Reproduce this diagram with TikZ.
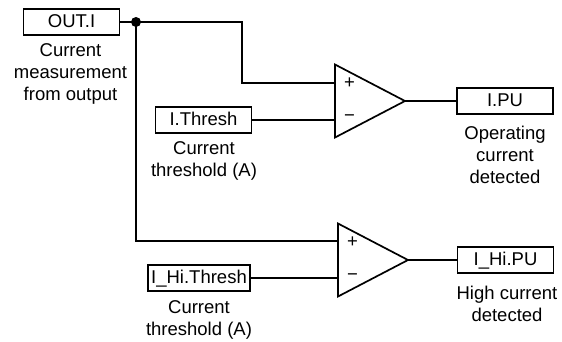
\documentclass[tikz,border=0pt]{standalone}
\usepackage{fontspec}
\setmainfont{Liberation Sans}
\tikzset{
  x=1pt,y=-1pt,
  wire/.style={line width=1.7pt,black},
  sig/.style={draw=black,line width=1.7pt,fill=white,minimum height=26.5pt,inner sep=0pt,text height=14pt,text depth=3pt,font=\fontsize{18.5}{22}\selectfont,anchor=center},
  lab/.style={align=center,inner sep=0pt,font=\fontsize{18.5}{22}\selectfont,anchor=center},
  sign/.style={inner sep=0pt,font=\fontsize{18.5}{18.5}\selectfont,anchor=center},
  amp/.style={line width=1.7pt,draw=black,line join=miter}
}
\begin{document}
\begin{tikzpicture}
\useasboundingbox (0,0) rectangle (562,341);
% signal boxes
\node[sig,minimum width=96pt] (outi) at (71.5,22) {OUT.I};
\node[sig,minimum width=96pt] (ith) at (203.5,120) {I.Thresh};
\node[sig,minimum width=96pt] (ipu) at (505,101) {I.PU};
\node[sig,minimum width=102pt] (hith) at (199,278) {I\_Hi.Thresh};
\node[sig,minimum width=96pt] (hipu) at (505.5,260) {I\_Hi.PU};
% labels
\node[lab] (l1) at (70.5,74) {Current\\measurement\\from output};
\node[lab] (l2) at (204,160.5) {Current\\threshold (A)};
\node[lab] (l3) at (505,154.5) {Operating\\current\\detected};
\node[lab] (l4) at (199,320) {Current\\threshold (A)};
\node[lab] (l5) at (507,303.5) {High current\\detected};
% comparators
\coordinate (a1t) at (335,64.5);
\coordinate (a1b) at (335,137.5);
\coordinate (a1o) at (405,101);
\coordinate (a1p) at (335,83);
\coordinate (a1m) at (335,120);
\coordinate (a2t) at (338,223.5);
\coordinate (a2b) at (338,296.5);
\coordinate (a2o) at (408,260);
\coordinate (a2p) at (338,241);
\coordinate (a2m) at (338,278);
\draw[amp] (a1t) -- (a1o) -- (a1b) -- cycle;
\draw[amp] (a2t) -- (a2o) -- (a2b) -- cycle;
\node[sign] (p1) at (349.5,83) {+};
\node[sign] (m1) at (349.5,118) {−};
\node[sign] (p2) at (352.5,242) {+};
\node[sign] (m2) at (352.5,277) {−};
% junction
\coordinate (j) at (136,22);
\fill (j) circle (5pt);
% connectors
\draw[wire] (outi.east) -- (j);
\draw[wire] (j) -| (242,83) -- (a1p);
\draw[wire] (j) |- (a2p);
\draw[wire] (ith.east) -- (a1m);
\draw[wire] (hith.east) -- (a2m);
\draw[wire] (a1o) -- (ipu.west);
\draw[wire] (a2o) -- (hipu.west);
\end{tikzpicture}
\end{document}
